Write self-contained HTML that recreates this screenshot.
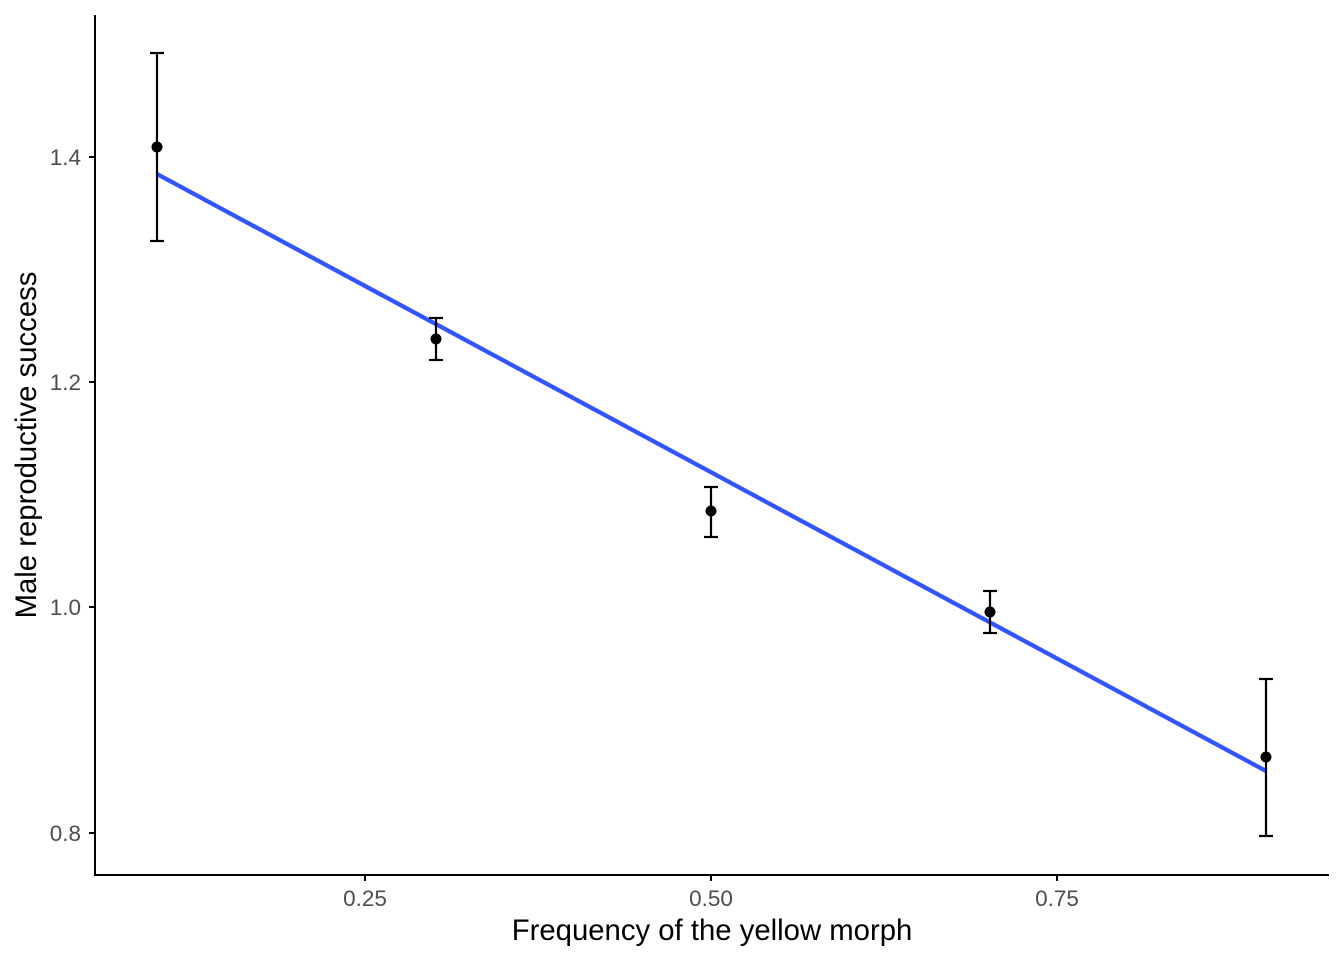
<!DOCTYPE html>
<html><head><meta charset="utf-8"><style>html,body{margin:0;padding:0;background:#fff;}</style></head>
<body>
<svg width="1344" height="960" viewBox="0 0 1344 960" xmlns="http://www.w3.org/2000/svg" font-family="'Liberation Sans', Arial, sans-serif">
<rect width="1344" height="960" fill="#fff"/>
<line x1="157" y1="174" x2="1266" y2="771" stroke="#3355FF" stroke-width="4.3"/>
<g stroke="#000" stroke-width="2.2" fill="none">
<line x1="157" y1="53" x2="157" y2="241"/><line x1="150" y1="53" x2="164" y2="53"/><line x1="150" y1="241" x2="164" y2="241"/>
<line x1="436" y1="318" x2="436" y2="360"/><line x1="429" y1="318" x2="443" y2="318"/><line x1="429" y1="360" x2="443" y2="360"/>
<line x1="711" y1="487" x2="711" y2="537"/><line x1="704" y1="487" x2="718" y2="487"/><line x1="704" y1="537" x2="718" y2="537"/>
<line x1="990" y1="591" x2="990" y2="633"/><line x1="983" y1="591" x2="997" y2="591"/><line x1="983" y1="633" x2="997" y2="633"/>
<line x1="1266" y1="679" x2="1266" y2="836"/><line x1="1259" y1="679" x2="1273" y2="679"/><line x1="1259" y1="836" x2="1273" y2="836"/>
</g>
<g fill="#000">
<circle cx="157" cy="147" r="5.5"/><circle cx="436" cy="339" r="5.5"/><circle cx="711" cy="511" r="5.5"/><circle cx="990" cy="612" r="5.5"/><circle cx="1266" cy="757" r="5.5"/>
</g>
<g stroke="#000" stroke-width="2">
<line x1="95" y1="15" x2="95" y2="876"/>
<line x1="94" y1="875" x2="1329" y2="875"/>
<line x1="89" y1="157" x2="95" y2="157"/><line x1="89" y1="382" x2="95" y2="382"/><line x1="89" y1="607" x2="95" y2="607"/><line x1="89" y1="833" x2="95" y2="833"/>
<line x1="365" y1="875" x2="365" y2="881"/><line x1="711" y1="875" x2="711" y2="881"/><line x1="1057" y1="875" x2="1057" y2="881"/>
</g>
<g fill="#4d4d4d" font-size="22.5">
<text x="81" y="165" text-anchor="end">1.4</text>
<text x="81" y="390" text-anchor="end">1.2</text>
<text x="81" y="615" text-anchor="end">1.0</text>
<text x="81" y="841" text-anchor="end">0.8</text>
<text x="365" y="906" text-anchor="middle">0.25</text>
<text x="711" y="906" text-anchor="middle">0.50</text>
<text x="1057" y="906" text-anchor="middle">0.75</text>
</g>
<text x="712" y="940" text-anchor="middle" font-size="29.3" fill="#000">Frequency of the yellow morph</text>
<text transform="translate(36,445) rotate(-90)" text-anchor="middle" font-size="29.3" fill="#000">Male reproductive success</text>
</svg>
</body></html>
